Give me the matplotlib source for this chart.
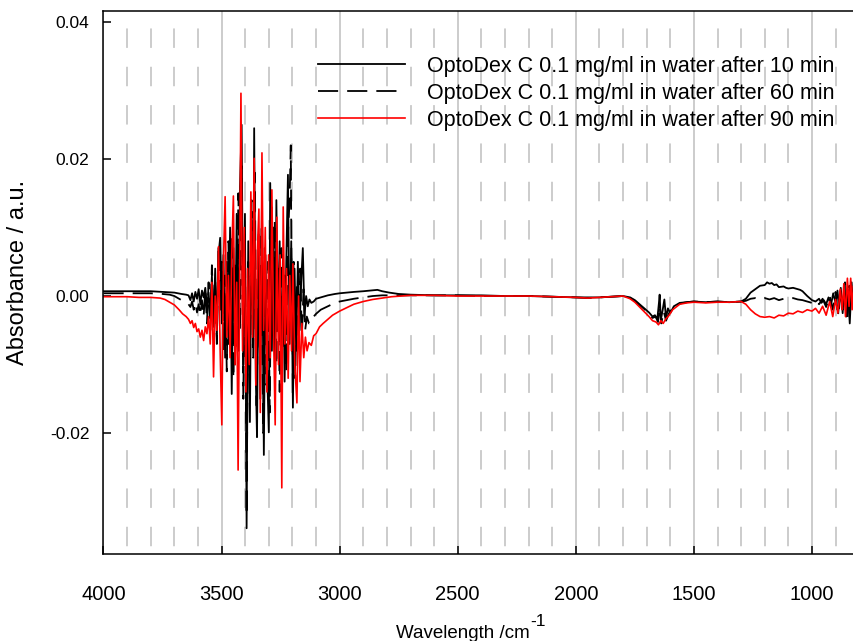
import matplotlib

matplotlib.use("Agg")
import matplotlib.pyplot as plt
from matplotlib.ticker import MultipleLocator, FormatStrFormatter

# wavenumber (cm-1) / absorbance pairs
wn_10 = [4000, 3900, 3800, 3750, 3700, 3670, 3650, 3640, 3632, 3625, 3618, 3611, 3604, 3597,
         3590, 3583, 3576, 3569, 3562, 3555, 3548, 3541, 3534, 3527, 3520, 3513, 3506, 3499,
         3492, 3485, 3478, 3471, 3464, 3457, 3450, 3443, 3436, 3429, 3422, 3415, 3408, 3401,
         3394, 3387, 3380, 3373, 3366, 3362, 3355, 3350, 3343, 3336, 3329, 3321, 3314, 3307,
         3300, 3294, 3287, 3280, 3273, 3268, 3261, 3254, 3247, 3240, 3233, 3226, 3219, 3212,
         3205, 3198, 3191, 3184, 3177, 3170, 3163, 3156, 3149, 3142, 3135, 3128, 3120, 3110,
         3100, 3080, 3050, 3020, 3000, 2970, 2940, 2900, 2870, 2840, 2820, 2790, 2750, 2700,
         2600, 2500, 2400, 2300, 2200, 2100, 2000, 1950, 1900, 1850, 1800, 1770, 1750, 1730,
         1710, 1690, 1675, 1665, 1655, 1648, 1645, 1640, 1632, 1625, 1618, 1610, 1600, 1585,
         1560, 1530, 1500, 1450, 1400, 1350, 1300, 1280, 1260, 1240, 1220, 1200, 1190, 1180,
         1170, 1160, 1150, 1140, 1120, 1110, 1100, 1080, 1060, 1050, 1040, 1020, 1000, 985,
         970, 960, 950, 940, 930, 920, 910, 900, 892, 885, 878, 870, 862, 855, 848, 840,
         832, 826, 820]
abs_10 = [0.0007, 0.0007, 0.0007, 0.0006, 0.0005, 0.0003, 0.0002, 0.0001, -0.0006, 0.0004,
          -0.0008, 0.0006, -0.0004, 0.0010, -0.0012, 0.0008, -0.0002, 0.0012, -0.0015, 0.0005,
          -0.0030, 0.0030, -0.0045, 0.0040, -0.0060, 0.0060, 0.0085, -0.0040, 0.0060, -0.0090,
          0.0050, -0.0070, 0.0100, -0.0143, 0.0070, -0.0100, 0.0120, -0.0080, 0.0160, 0.0250,
          -0.0100, 0.0120, -0.0339, 0.0080, -0.0184, 0.0110, -0.0060, 0.0245, -0.0120, -0.0206,
          0.0090, -0.0150, 0.0140, -0.0232, 0.0060, -0.0110, -0.0199, 0.0165, -0.0080, 0.0100,
          -0.0120, 0.0140, -0.0050, 0.0080, -0.0090, 0.0060, -0.0125, 0.0050, 0.0177, -0.0070,
          0.0080, -0.0163, 0.0040, -0.0080, 0.0050, -0.0050, 0.0020, 0.0070, -0.0030, 0.0000,
          -0.0015, -0.0005, -0.0010, -0.0008, -0.0004, -0.0002, 0.0001, 0.0003, 0.0004, 0.0005,
          0.0006, 0.0007, 0.0008, 0.0009, 0.0007, 0.0005, 0.0003, 0.0002, 0.0001, 0.0001,
          0.0001, 0.0000, 0.0000, -0.0001, -0.0002, -0.0002, -0.0002, -0.0001, 0.0000, -0.0002,
          -0.0006, -0.0012, -0.0018, -0.0024, -0.0030, -0.0028, -0.0034, -0.0010, 0.0002,
          -0.0035, -0.0020, -0.0005, -0.0032, -0.0018, -0.0025, -0.0015, -0.0010, -0.0009,
          -0.0008, -0.0009, -0.0008, -0.0009, -0.0008, -0.0004, 0.0005, 0.0010, 0.0015, 0.0016,
          0.0020, 0.0018, 0.0019, 0.0016, 0.0017, 0.0013, 0.0014, 0.0012, 0.0011, 0.0012,
          0.0010, 0.0009, 0.0007, 0.0000, -0.0006, -0.0008, -0.0004, -0.0010, -0.0006, -0.0012,
          -0.0002, -0.0014, 0.0004, -0.0010, 0.0008, -0.0018, 0.0012, -0.0025, 0.0018, -0.0030,
          0.0010, -0.0040, 0.0020, -0.0015, 0.0005]

wn_60 = [4000, 3900, 3800, 3750, 3720, 3700, 3690, 3670, 3650, 3640, 3632, 3625, 3618, 3611,
         3604, 3597, 3590, 3583, 3576, 3569, 3562, 3555, 3548, 3541, 3534, 3527, 3520, 3513,
         3506, 3499, 3492, 3485, 3478, 3471, 3464, 3457, 3450, 3443, 3436, 3429, 3422, 3415,
         3408, 3401, 3394, 3387, 3380, 3373, 3366, 3359, 3352, 3345, 3338, 3331, 3324, 3317,
         3310, 3303, 3296, 3289, 3282, 3275, 3268, 3261, 3254, 3247, 3240, 3233, 3226, 3219,
         3212, 3207, 3202, 3195, 3188, 3181, 3174, 3167, 3160, 3153, 3146, 3139, 3130, 3120,
         3110, 3100, 3080, 3050, 3020, 3000, 2970, 2940, 2900, 2860, 2820, 2780, 2700, 2600,
         2500, 2400, 2300, 2200, 2100, 2000, 1950, 1900, 1850, 1800, 1770, 1750, 1730, 1710,
         1690, 1675, 1662, 1652, 1645, 1638, 1628, 1618, 1605, 1590, 1560, 1530, 1500, 1450,
         1400, 1350, 1300, 1280, 1260, 1240, 1220, 1200, 1180, 1160, 1140, 1120, 1100, 1080,
         1060, 1040, 1020, 1000, 985, 970, 955, 940, 925, 912, 900, 890, 880, 870, 860, 850,
         842, 833, 826, 820]
abs_60 = [0.0004, 0.0004, 0.0004, 0.0003, 0.0002, 0.0000, -0.0002, -0.0006, -0.0010, -0.0012,
          -0.0016, -0.0008, -0.0020, -0.0010, -0.0024, -0.0012, -0.0028, -0.0006, -0.0030,
          0.0010, -0.0040, 0.0020, -0.0050, 0.0045, -0.0030, 0.0020, -0.0070, 0.0075, -0.0020,
          0.0050, -0.0080, 0.0030, -0.0110, 0.0080, -0.0060, 0.0090, -0.0120, 0.0050, -0.0080,
          0.0150, -0.0050, 0.0190, -0.0150, 0.0090, -0.0320, 0.0050, -0.0120, 0.0140, -0.0090,
          0.0180, -0.0160, 0.0060, -0.0100, 0.0100, -0.0200, 0.0070, -0.0130, 0.0050, -0.0170,
          0.0130, -0.0060, 0.0110, -0.0100, 0.0040, -0.0140, 0.0070, -0.0080, 0.0030, -0.0110,
          0.0090, 0.0140, 0.0220, -0.0080, 0.0050, -0.0120, 0.0020, -0.0070, 0.0040, -0.0060,
          0.0010, -0.0050, -0.0030, -0.0040, -0.0038, -0.0030, -0.0026, -0.0020, -0.0015,
          -0.0010, -0.0008, -0.0006, -0.0004, -0.0002, 0.0000, 0.0001, 0.0001, 0.0001, 0.0001,
          0.0001, 0.0000, 0.0000, 0.0000, -0.0001, -0.0002, -0.0003, -0.0002, -0.0001, 0.0000,
          -0.0003, -0.0007, -0.0013, -0.0019, -0.0026, -0.0032, -0.0030, -0.0038, -0.0015,
          -0.0040, -0.0022, -0.0036, -0.0025, -0.0017, -0.0011, -0.0009, -0.0008, -0.0009,
          -0.0008, -0.0009, -0.0008, -0.0007, -0.0004, -0.0003, -0.0005, -0.0003, -0.0005,
          -0.0003, -0.0006, -0.0004, -0.0005, -0.0003, -0.0005, -0.0006, -0.0008, -0.0010,
          -0.0006, -0.0012, -0.0004, -0.0016, 0.0000, -0.0020, 0.0006, -0.0030, 0.0012, -0.0020,
          0.0020, -0.0035, 0.0015, -0.0010, 0.0008, -0.0012]

wn_90 = [4000, 3900, 3850, 3800, 3760, 3740, 3720, 3700, 3680, 3665, 3650, 3640, 3632, 3625,
         3618, 3611, 3604, 3597, 3590, 3583, 3576, 3569, 3562, 3555, 3548, 3541, 3534, 3527,
         3520, 3513, 3506, 3499, 3492, 3485, 3478, 3471, 3464, 3457, 3450, 3443, 3436, 3430,
         3423, 3418, 3411, 3404, 3397, 3390, 3383, 3376, 3369, 3362, 3355, 3348, 3342, 3336,
         3329, 3322, 3315, 3308, 3301, 3294, 3287, 3280, 3273, 3266, 3259, 3252, 3245, 3239,
         3232, 3225, 3218, 3211, 3204, 3198, 3190, 3181, 3174, 3168, 3160, 3152, 3145, 3138,
         3130, 3120, 3110, 3100, 3085, 3070, 3050, 3030, 3000, 2970, 2940, 2900, 2860, 2820,
         2780, 2740, 2700, 2600, 2500, 2400, 2300, 2200, 2100, 2000, 1950, 1900, 1850, 1800,
         1770, 1750, 1730, 1710, 1690, 1675, 1660, 1650, 1640, 1630, 1620, 1605, 1590, 1560,
         1530, 1500, 1450, 1400, 1350, 1300, 1280, 1260, 1240, 1220, 1200, 1180, 1160, 1140,
         1120, 1100, 1080, 1060, 1040, 1020, 1000, 985, 970, 955, 940, 925, 912, 900, 890,
         880, 872, 865, 858, 850, 843, 836, 830, 824, 820]
abs_90 = [-0.0001, -0.0001, -0.0002, -0.0002, -0.0003, -0.0005, -0.0009, -0.0013, -0.0020,
          -0.0026, -0.0030, -0.0034, -0.0040, -0.0036, -0.0046, -0.0040, -0.0052, -0.0048,
          -0.0060, -0.0050, -0.0065, -0.0045, -0.0055, -0.0030, -0.0070, 0.0020, -0.0118,
          0.0000, -0.0050, 0.0072, -0.0080, -0.0188, 0.0050, 0.0145, -0.0060, 0.0030, -0.0090,
          0.0060, 0.0146, -0.0100, 0.0020, -0.0254, 0.0050, 0.0296, -0.0080, 0.0100, -0.0140,
          0.0040, -0.0100, 0.0152, -0.0060, 0.0201, -0.0130, 0.0070, 0.0127, -0.0170, 0.0209,
          -0.0050, 0.0100, -0.0140, 0.0060, -0.0090, 0.0155, -0.0050, -0.0188, 0.0115, -0.0100,
          0.0060, -0.0280, 0.0130, -0.0070, 0.0040, -0.0120, 0.0030, -0.0080, 0.0047, -0.0100,
          -0.0156, 0.0000, -0.0125, -0.0040, -0.0090, -0.0060, -0.0080, -0.0068, -0.0072,
          -0.0058, -0.0055, -0.0045, -0.0040, -0.0034, -0.0028, -0.0022, -0.0017, -0.0012,
          -0.0008, -0.0005, -0.0003, -0.0001, 0.0000, 0.0001, 0.0001, 0.0000, 0.0000, 0.0000,
          0.0000, -0.0001, -0.0002, -0.0003, -0.0002, -0.0001, 0.0000, -0.0004, -0.0009,
          -0.0016, -0.0023, -0.0030, -0.0036, -0.0038, -0.0042, -0.0036, -0.0040, -0.0034,
          -0.0028, -0.0020, -0.0012, -0.0010, -0.0009, -0.0010, -0.0009, -0.0009, -0.0008,
          -0.0012, -0.0020, -0.0026, -0.0030, -0.0031, -0.0030, -0.0032, -0.0028, -0.0029,
          -0.0025, -0.0026, -0.0022, -0.0024, -0.0020, -0.0022, -0.0018, -0.0025, -0.0015,
          -0.0028, -0.0008, -0.0030, -0.0005, -0.0025, 0.0010, -0.0020, 0.0018, -0.0030,
          0.0026, -0.0015, 0.0026, -0.0020, 0.0015, -0.0010]

labels = ["OptoDex C 0.1 mg/ml in water after 10 min",
          "OptoDex C 0.1 mg/ml in water after 60 min",
          "OptoDex C 0.1 mg/ml in water after 90 min"]

plt.rcParams.update({
    "font.family": ["Liberation Sans", "DejaVu Sans"],
    "axes.unicode_minus": False,
    "lines.scale_dashes": False,
})

fig = plt.figure(figsize=(8.54, 6.41), dpi=100)
ax = fig.add_axes([103.5 / 854, 87 / 641, (854 - 103.5) / 854, 543 / 641])

ax.plot(wn_10, abs_10, color="black", lw=1.3, label=labels[0])
ax.plot(wn_60, abs_60, color="black", lw=1.3, linestyle=(0, (14.5, 6.5)), label=labels[1])
ax.plot(wn_90, abs_90, color="#ff0000", lw=1.2, label=labels[2])

ax.set_xlim(4000, 822)
ax.set_ylim(-0.03766, 0.04161)

ax.xaxis.set_major_locator(MultipleLocator(500))
ax.xaxis.set_minor_locator(MultipleLocator(100))
ax.yaxis.set_major_locator(MultipleLocator(0.02))
ax.yaxis.set_major_formatter(FormatStrFormatter("%.2f"))

ax.grid(True, axis="x", which="major", color="#c8c8c8", lw=1.3)
ax.grid(True, axis="x", which="minor", color="#c8c8c8", lw=1.3, linestyle=(22, (14, 13.6)))
ax.set_axisbelow(True)

ax.tick_params(axis="both", which="major", direction="in", length=6, width=1.1, color="black")
ax.tick_params(axis="x", which="minor", length=0)
ax.tick_params(axis="x", labelsize=14.5, pad=22)
ax.tick_params(axis="y", labelsize=12.5, pad=10)
ax.spines["right"].set_visible(False)
for side in ["left", "bottom", "top"]:
    ax.spines[side].set_linewidth(1.1)

# axis titles placed by hand; the superscript uses a plain hyphen like the original
fig.text(396 / 854, 1 - 638 / 641, "Wavelength /cm", fontsize=13.5, ha="left", va="baseline")
fig.text(530 / 854, 1 - 626 / 641, "-1", fontsize=12.5, ha="left", va="baseline")
fig.text(18 / 854, 1 - 272 / 641, "Absorbance / a.u.", fontsize=17, rotation=90,
         ha="center", va="center")

ax.legend(loc="upper left", bbox_to_anchor=(0.2858, 0.918), frameon=False, fontsize=15.5,
          handlelength=4.04, handletextpad=1.02, labelspacing=0.29, borderaxespad=0, borderpad=0)

fig.savefig("out.png", dpi=100)
